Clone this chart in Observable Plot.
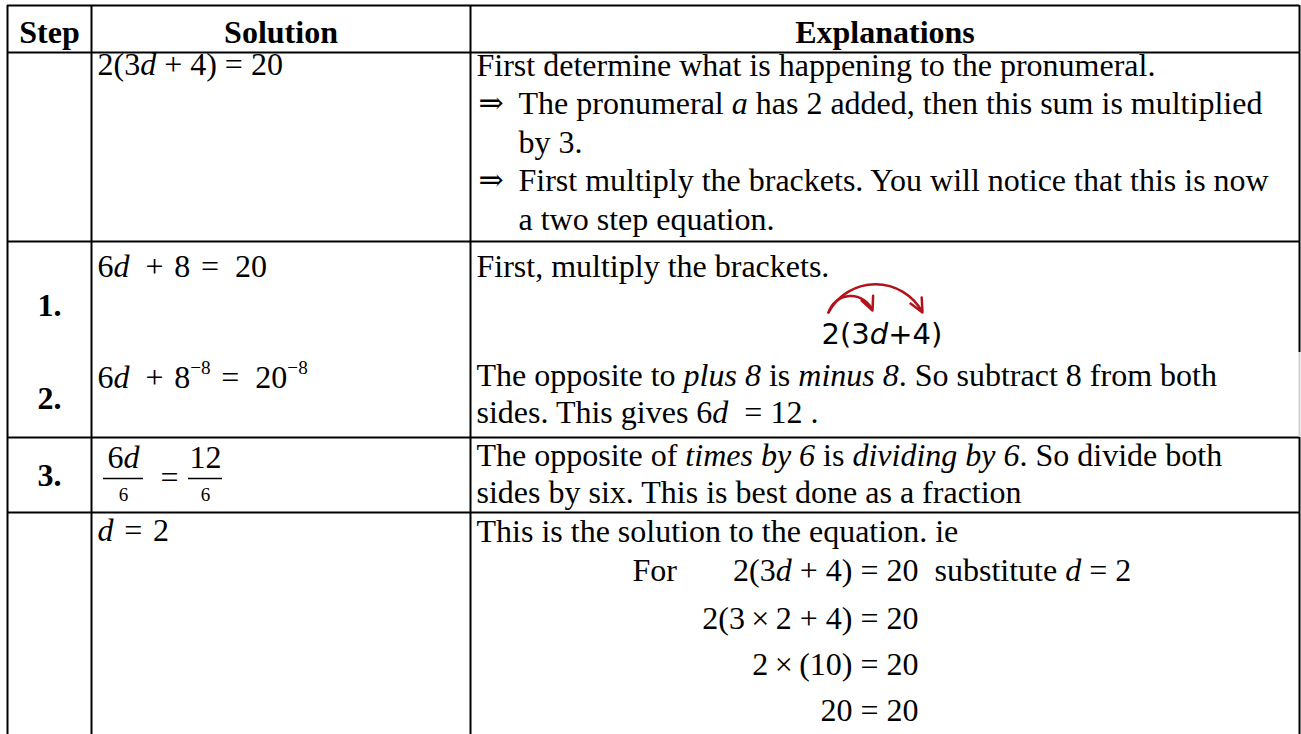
<!DOCTYPE html>
<html><head><meta charset="utf-8">
<script src="https://cdn.jsdelivr.net/npm/d3@7"></script>
<script src="https://cdn.jsdelivr.net/npm/@observablehq/plot@0.6"></script>
<style>html,body{margin:0;padding:0;background:#fff}</style>
</head><body>
<script>
// ---------- content ----------
const headers = ["Step", "Solution", "Explanations"];
const stepLabels = ["1.", "2.", "3."];
const solutionLines = [
  "2(3*d*\u2005+ 4) = 20",
  "6*d*\u2002+\u20048\u2004=\u200220",
  "6*d*\u2002+\u20048^−8^\u2004=\u200220^−8^",
  "*d*\u2004=\u20042"
];
const fractionNumerators = ["6*d*", "12"];
const fractionDenominators = ["6", "6"];
const explanationLines = [
  "First determine what is happening to the pronumeral.",
  "The pronumeral *a* has 2 added, then this sum is multiplied",
  "by 3.",
  "First multiply the brackets. You will notice that this is now",
  "a two step equation.",
  "First, multiply the brackets.",
  "The opposite to *plus 8* is *minus 8*. So subtract 8 from both",
  "sides. This gives 6*d*\u2002= 12\u2005.",
  "The opposite of *times by 6* is *dividing by 6*. So divide both",
  "sides by six. This is best done as a fraction",
  "This is the solution to the equation. ie"
];
const bulletLines = [1, 3];           // explanation lines that start with ⇒
const indentedLines = [1, 2, 3, 4];   // hanging indent
const checkLead = ["For"];
const checkLines = ["2(3*d*\u2005+ 4) = 20", "2(3\u2009×\u20092 + 4) = 20", "2\u2009×\u2009(10) = 20", "20 = 20"];
const checkTail = ["substitute *d* = 2"];
const sketchLabel = ["2(3*d*+4)"];

// ---------- layout ----------
const W = 1301, H = 734;
const colEdges = [7, 91, 470, 1299];
const rowEdges = [5, 52, 241, 437, 512, H];
const FS = 32;
const headerBaseline = 42;
const stepBaselines = [315, 408, 485];
const solutionBaselines = [74, 276, 387, 540];
const explanationBaselines = [75, 113.5, 152, 190.5, 229, 276, 385, 422, 465, 502, 541];
const textX = colEdges[2] + 6, indentX = colEdges[2] + 48, solX = colEdges[1] + 6;
const checkBaselines = [580, 628, 674, 720];
const fracCenters = [123, 205], fracHalf = [20, 17];
const sketch = {x: 821, baseline: 343};
const sketchArcSmall = [{x1: 828, y1: 312, x2: 872, y2: 310}];
const sketchArcBig = [{x1: 828, y1: 312, x2: 922, y2: 312}];

// derived tables
const hLines = rowEdges.slice(0, -1).map(y => ({y, x1: colEdges[0], x2: colEdges[3]}));
const vLines = [
  ...colEdges.slice(0, 3).map(x => ({x, y1: rowEdges[0], y2: H, c: "black"})),
  {x: colEdges[3], y1: rowEdges[0], y2: 352, c: "black"},
  {x: colEdges[3], y1: 352, y2: rowEdges[3], c: "#d0d0d0"},
  {x: colEdges[3], y1: rowEdges[3], y2: H, c: "black"}
];
const headerRows = headers.map((t, i) => ({t, x: (colEdges[i] + colEdges[i + 1]) / 2, y: headerBaseline}));
const stepRows = stepLabels.map((t, i) => ({t, x: (colEdges[0] + colEdges[1]) / 2, y: stepBaselines[i]}));
const solRows = solutionLines.map((t, i) => ({t, x: solX, y: solutionBaselines[i]}));
const explRows = explanationLines.map((t, i) => ({t, x: indentedLines.includes(i) ? indentX : textX, y: explanationBaselines[i]}));
const bulletRows = bulletLines.map(i => ({t: "⇒", x: textX + 2, y: explanationBaselines[i] - 1}));
const checkRightX = 918;
const checkRows = checkLines.map((t, i) => ({t, x: checkRightX, y: checkBaselines[i]}));
const leadRows = checkLead.map(t => ({t, x: 632, y: checkBaselines[0]}));
const tailRows = checkTail.map(t => ({t, x: checkRightX + 16, y: checkBaselines[0]}));
const numRows = fractionNumerators.map((t, i) => ({t, x: fracCenters[i], y: 467}));
const denRows = fractionDenominators.map((t, i) => ({t, x: fracCenters[i], y: 500}));
const barRows = fracCenters.map((c, i) => ({y: 478, x1: c - fracHalf[i], x2: c + fracHalf[i]}));
const eqRows = [{t: "=", x: 169, y: 487}];
const sketchRows = sketchLabel.map(t => ({t, x: sketch.x, y: sketch.baseline}));

const txt = (data, opts) => Plot.text(data, {x: "x", y: "y", text: "t", lineAnchor: "bottom",
  fontFamily: "Liberation Serif", fontSize: FS, fill: "black", ...opts});
const arc = (data, bend) => Plot.arrow(data, {x1: "x1", y1: "y1", x2: "x2", y2: "y2", bend,
  stroke: "#b3121b", strokeWidth: 2.5, headLength: 9, headAngle: 50});

const svg = Plot.plot({
  width: W, height: H, margin: 0,
  x: {domain: [0, W], range: [0, W], axis: null},
  y: {domain: [0, H], range: [0, H], axis: null},
  style: {background: "white", overflow: "visible"},
  marks: [
    Plot.ruleY(hLines, {y: "y", x1: "x1", x2: "x2", stroke: "black", strokeWidth: 2}),
    Plot.ruleX(vLines, {x: "x", y1: "y1", y2: "y2", stroke: "c", strokeWidth: 2}),
    txt(headerRows, {textAnchor: "middle", fontWeight: "bold"}),
    txt(stepRows, {textAnchor: "middle", fontWeight: "bold"}),
    txt(solRows, {textAnchor: "start"}),
    txt(explRows, {textAnchor: "start"}),
    txt(bulletRows, {textAnchor: "start", fontFamily: "DejaVu Serif", fontSize: 30}),
    txt(leadRows, {textAnchor: "start"}),
    txt(checkRows, {textAnchor: "end"}),
    txt(tailRows, {textAnchor: "start"}),
    txt(numRows, {textAnchor: "middle"}),
    txt(denRows, {textAnchor: "middle", fontSize: 19}),
    txt(eqRows, {textAnchor: "middle"}),
    Plot.ruleY(barRows, {y: "y", x1: "x1", x2: "x2", stroke: "black", strokeWidth: 1.3}),
    txt(sketchRows, {textAnchor: "start", fontFamily: "DejaVu Sans", fontSize: 29}),
    arc(sketchArcSmall, 70),
    arc(sketchArcBig, 62)
  ]
});
document.body.appendChild(svg);

// rich text: *italic* and ^superscript^
d3.select(svg).selectAll("text").each(function () {
  const s = this.textContent;
  if (!/[*^]/.test(s)) return;
  const fs = parseFloat(getComputedStyle(this).fontSize) || FS;
  this.textContent = "";
  const parts = s.split(/(\*[^*]+\*|\^[^^]+\^)/).filter(p => p !== "");
  let raised = false;
  for (const p of parts) {
    const t = document.createElementNS("http://www.w3.org/2000/svg", "tspan");
    if (p.startsWith("^")) {
      t.textContent = p.slice(1, -1);
      t.setAttribute("font-size", 0.6 * fs);
      t.setAttribute("dy", -0.42 * fs);
      raised = true;
    } else {
      t.textContent = p.startsWith("*") ? p.slice(1, -1) : p;
      if (p.startsWith("*")) t.setAttribute("font-style", "italic");
      if (raised) { t.setAttribute("dy", 0.42 * fs); raised = false; }
    }
    this.appendChild(t);
  }
});
</script>
</body></html>
